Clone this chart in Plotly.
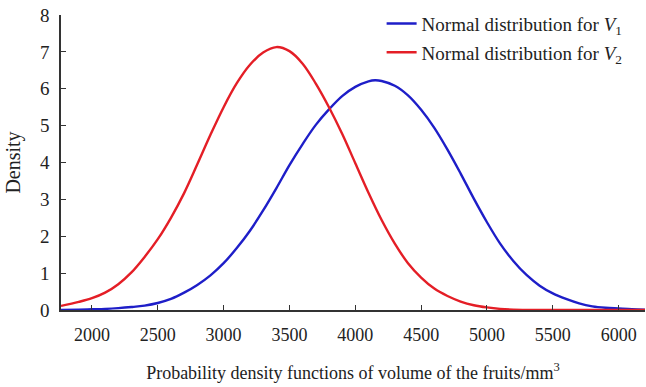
import plotly.graph_objects as go

# Volume (mm^3) grid and density readings for V1 (blue)
v1_x = [1765, 1900, 2000, 2100, 2200, 2300, 2400, 2500, 2600, 2700, 2800, 2900, 3000, 3100, 3200,
        3300, 3400, 3500, 3600, 3700, 3800, 3900, 4000, 4100, 4150, 4200, 4300, 4400, 4500,
        4600, 4700, 4800, 4900, 5000, 5100, 5200, 5300, 5400, 5500, 5600, 5700, 5800, 5900,
        6000, 6100, 6200]
v1_y = [0.0, 0.01, 0.02, 0.03, 0.05, 0.08, 0.12, 0.19, 0.30, 0.47, 0.68, 0.94, 1.27, 1.68, 2.15,
        2.70, 3.30, 3.93, 4.50, 5.02, 5.44, 5.80, 6.05, 6.20, 6.23, 6.21, 6.08, 5.82, 5.43,
        4.94, 4.35, 3.70, 3.02, 2.38, 1.80, 1.33, 0.95, 0.66, 0.45, 0.30, 0.18, 0.10, 0.06,
        0.04, 0.02, 0.01]

# Volume grid and density readings for V2 (red)
v2_x = [1765, 1900, 2000, 2100, 2200, 2300, 2400, 2500, 2600, 2700, 2800, 2900, 3000, 3100, 3200,
        3300, 3400, 3500, 3600, 3700, 3800, 3900, 4000, 4100, 4200, 4300, 4400, 4500, 4600,
        4700, 4800, 4900, 5000, 5100, 5200, 5400, 6200]
v2_y = [0.11, 0.22, 0.32, 0.47, 0.70, 1.02, 1.44, 1.92, 2.50, 3.17, 3.95, 4.75, 5.50, 6.15, 6.65,
        6.98, 7.13, 7.02, 6.68, 6.14, 5.50, 4.78, 3.98, 3.18, 2.44, 1.80, 1.27, 0.88, 0.58,
        0.38, 0.23, 0.13, 0.07, 0.03, 0.01, 0.0, 0.0]

x_ticks = [2000, 2500, 3000, 3500, 4000, 4500, 5000, 5500, 6000]
y_ticks = [0, 1, 2, 3, 4, 5, 6, 7, 8]

font = "Liberation Serif, Times New Roman, serif"
ink = "#222"

fig = go.Figure()
fig.add_trace(go.Scatter(x=v1_x, y=v1_y, mode="lines",
                         line=dict(color="rgb(30,30,200)", width=2.4, shape="spline", smoothing=1.0),
                         name="Normal distribution for <i>V</i><sub>1</sub>", legendgroup="a", cliponaxis=False))
fig.add_trace(go.Scatter(x=v2_x, y=v2_y, mode="lines",
                         line=dict(color="rgb(228,30,38)", width=2.4, shape="spline", smoothing=1.0),
                         name="Normal distribution for <i>V</i><sub>2</sub>", legendgroup="b", cliponaxis=False))

fig.update_layout(
    width=646, height=387,
    margin=dict(l=61, r=1, t=15, b=77),
    paper_bgcolor="white", plot_bgcolor="white",
    font=dict(family=font, size=18, color=ink),
    showlegend=True,
    legend=dict(x=0.549, y=1.035, xanchor="left", yanchor="top", bgcolor="rgba(0,0,0,0)",
                font=dict(family=font, size=19, color=ink), traceorder="grouped", tracegroupgap=1),
    xaxis=dict(range=[1765, 6200], tickvals=x_ticks, ticks="inside", ticklen=5, tickcolor="#333",
               showline=True, linecolor="#333", linewidth=1.5, showgrid=False, zeroline=False,
               ticklabelstandoff=8,
               title=dict(text="Probability density functions of volume of the fruits/mm<sup>3</sup>",
                          font=dict(family=font, size=18, color=ink), standoff=22),
               tickfont=dict(family=font, size=18, color=ink)),
    yaxis=dict(range=[0, 8], tickvals=y_ticks, ticks="inside", ticklen=5, tickcolor="#333",
               showline=True, linecolor="#333", linewidth=1.5, showgrid=False, zeroline=False,
               ticklabelstandoff=6,
               title=dict(text="Density", font=dict(family=font, size=20, color=ink), standoff=14),
               tickfont=dict(family=font, size=19, color=ink)),
)

fig.write_html("out.html")
